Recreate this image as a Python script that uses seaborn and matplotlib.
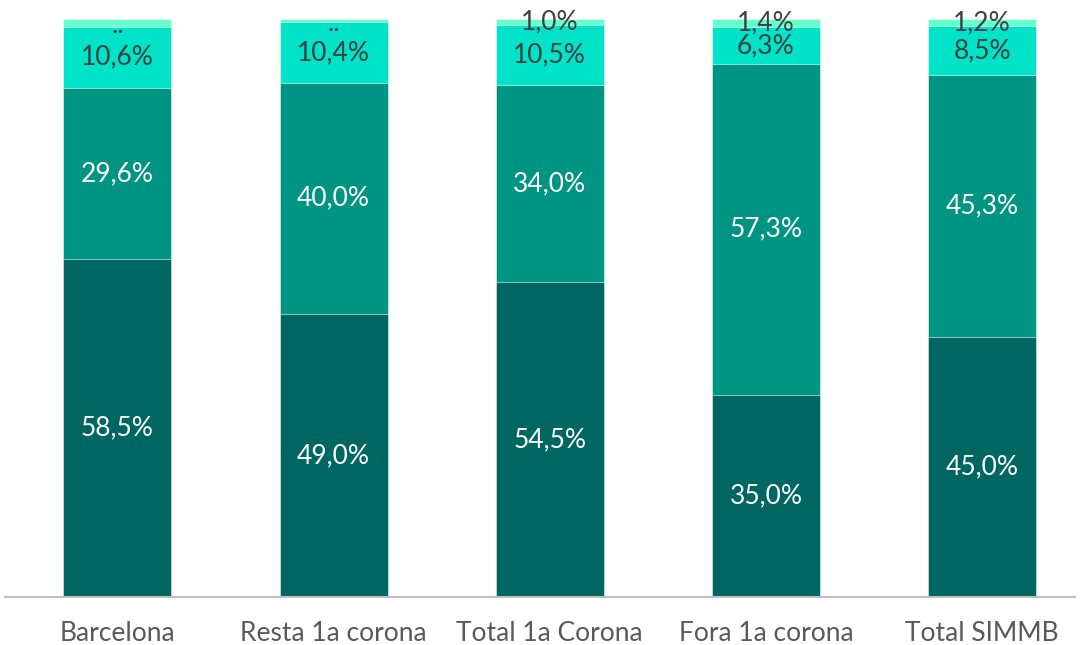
import seaborn as sns
import pandas as pd
import matplotlib.pyplot as plt
import matplotlib
import numpy as np
matplotlib.use('Agg')

categories = ["Barcelona", "Resta 1a corona", "Total 1a Corona", "Fora 1a corona", "Total SIMMB"]
dark_vals = [58.5, 49.0, 54.5, 35.0, 45.0]
mid_vals = [29.6, 40.0, 34.0, 57.3, 45.3]
cyan_vals = [10.6, 10.4, 10.5, 6.3, 8.5]
top_vals = [1.3, 0.6, 1.0, 1.4, 1.2]
top_labels = ["..", "..", "1,0%", "1,4%", "1,2%"]

colors = ["#006661", "#009483", "#00E3C9", "#66FFCC"]
text_colors = ["white", "white", "#404040", "#404040"]

def fmt(v):
    return "{:.1f}%".format(v).replace(".", ",")

sns.set_style("white")
plt.rcParams['font.family'] = ['Lato', 'DejaVu Sans']

layers = [dark_vals, mid_vals, cyan_vals, top_vals]
cum = np.cumsum(np.array(layers), axis=0)

fig = plt.figure(figsize=(10.8, 6.45), dpi=100)
ax = fig.add_axes([0.0046, 0.0744, 0.9908, 0.8961])

# draw from the top layer down so lower segments cover upper totals
for i in range(3, -1, -1):
    df = pd.DataFrame({"cat": categories, "val": cum[i]})
    sns.barplot(data=df, x="cat", y="val", color=colors[i], width=0.5,
                saturation=1, ax=ax, edgecolor="white", linewidth=0.4)

for j in range(len(categories)):
    for i in range(4):
        lo = cum[i - 1][j] if i > 0 else 0
        hi = cum[i][j]
        lab = top_labels[j] if i == 3 else fmt(layers[i][j])
        dy = -2 if lab == ".." else 0
        ax.annotate(lab, (j, (lo + hi) / 2), xytext=(0, dy), textcoords="offset points",
                    ha="center", va="center", fontsize=19, color=text_colors[i])

ax.set_ylim(0, 100)
ax.set_xlim(-0.52, 4.43)
ax.set_xlabel("")
ax.set_ylabel("")
ax.set_yticks([])
for s in ["top", "right", "left"]:
    ax.spines[s].set_visible(False)
ax.spines["bottom"].set_color("#BFBFBF")
ax.spines["bottom"].set_linewidth(1.5)
ax.tick_params(axis="x", length=0, pad=17, labelsize=19, labelcolor="#595959")

fig.savefig("out.png", dpi=100)
